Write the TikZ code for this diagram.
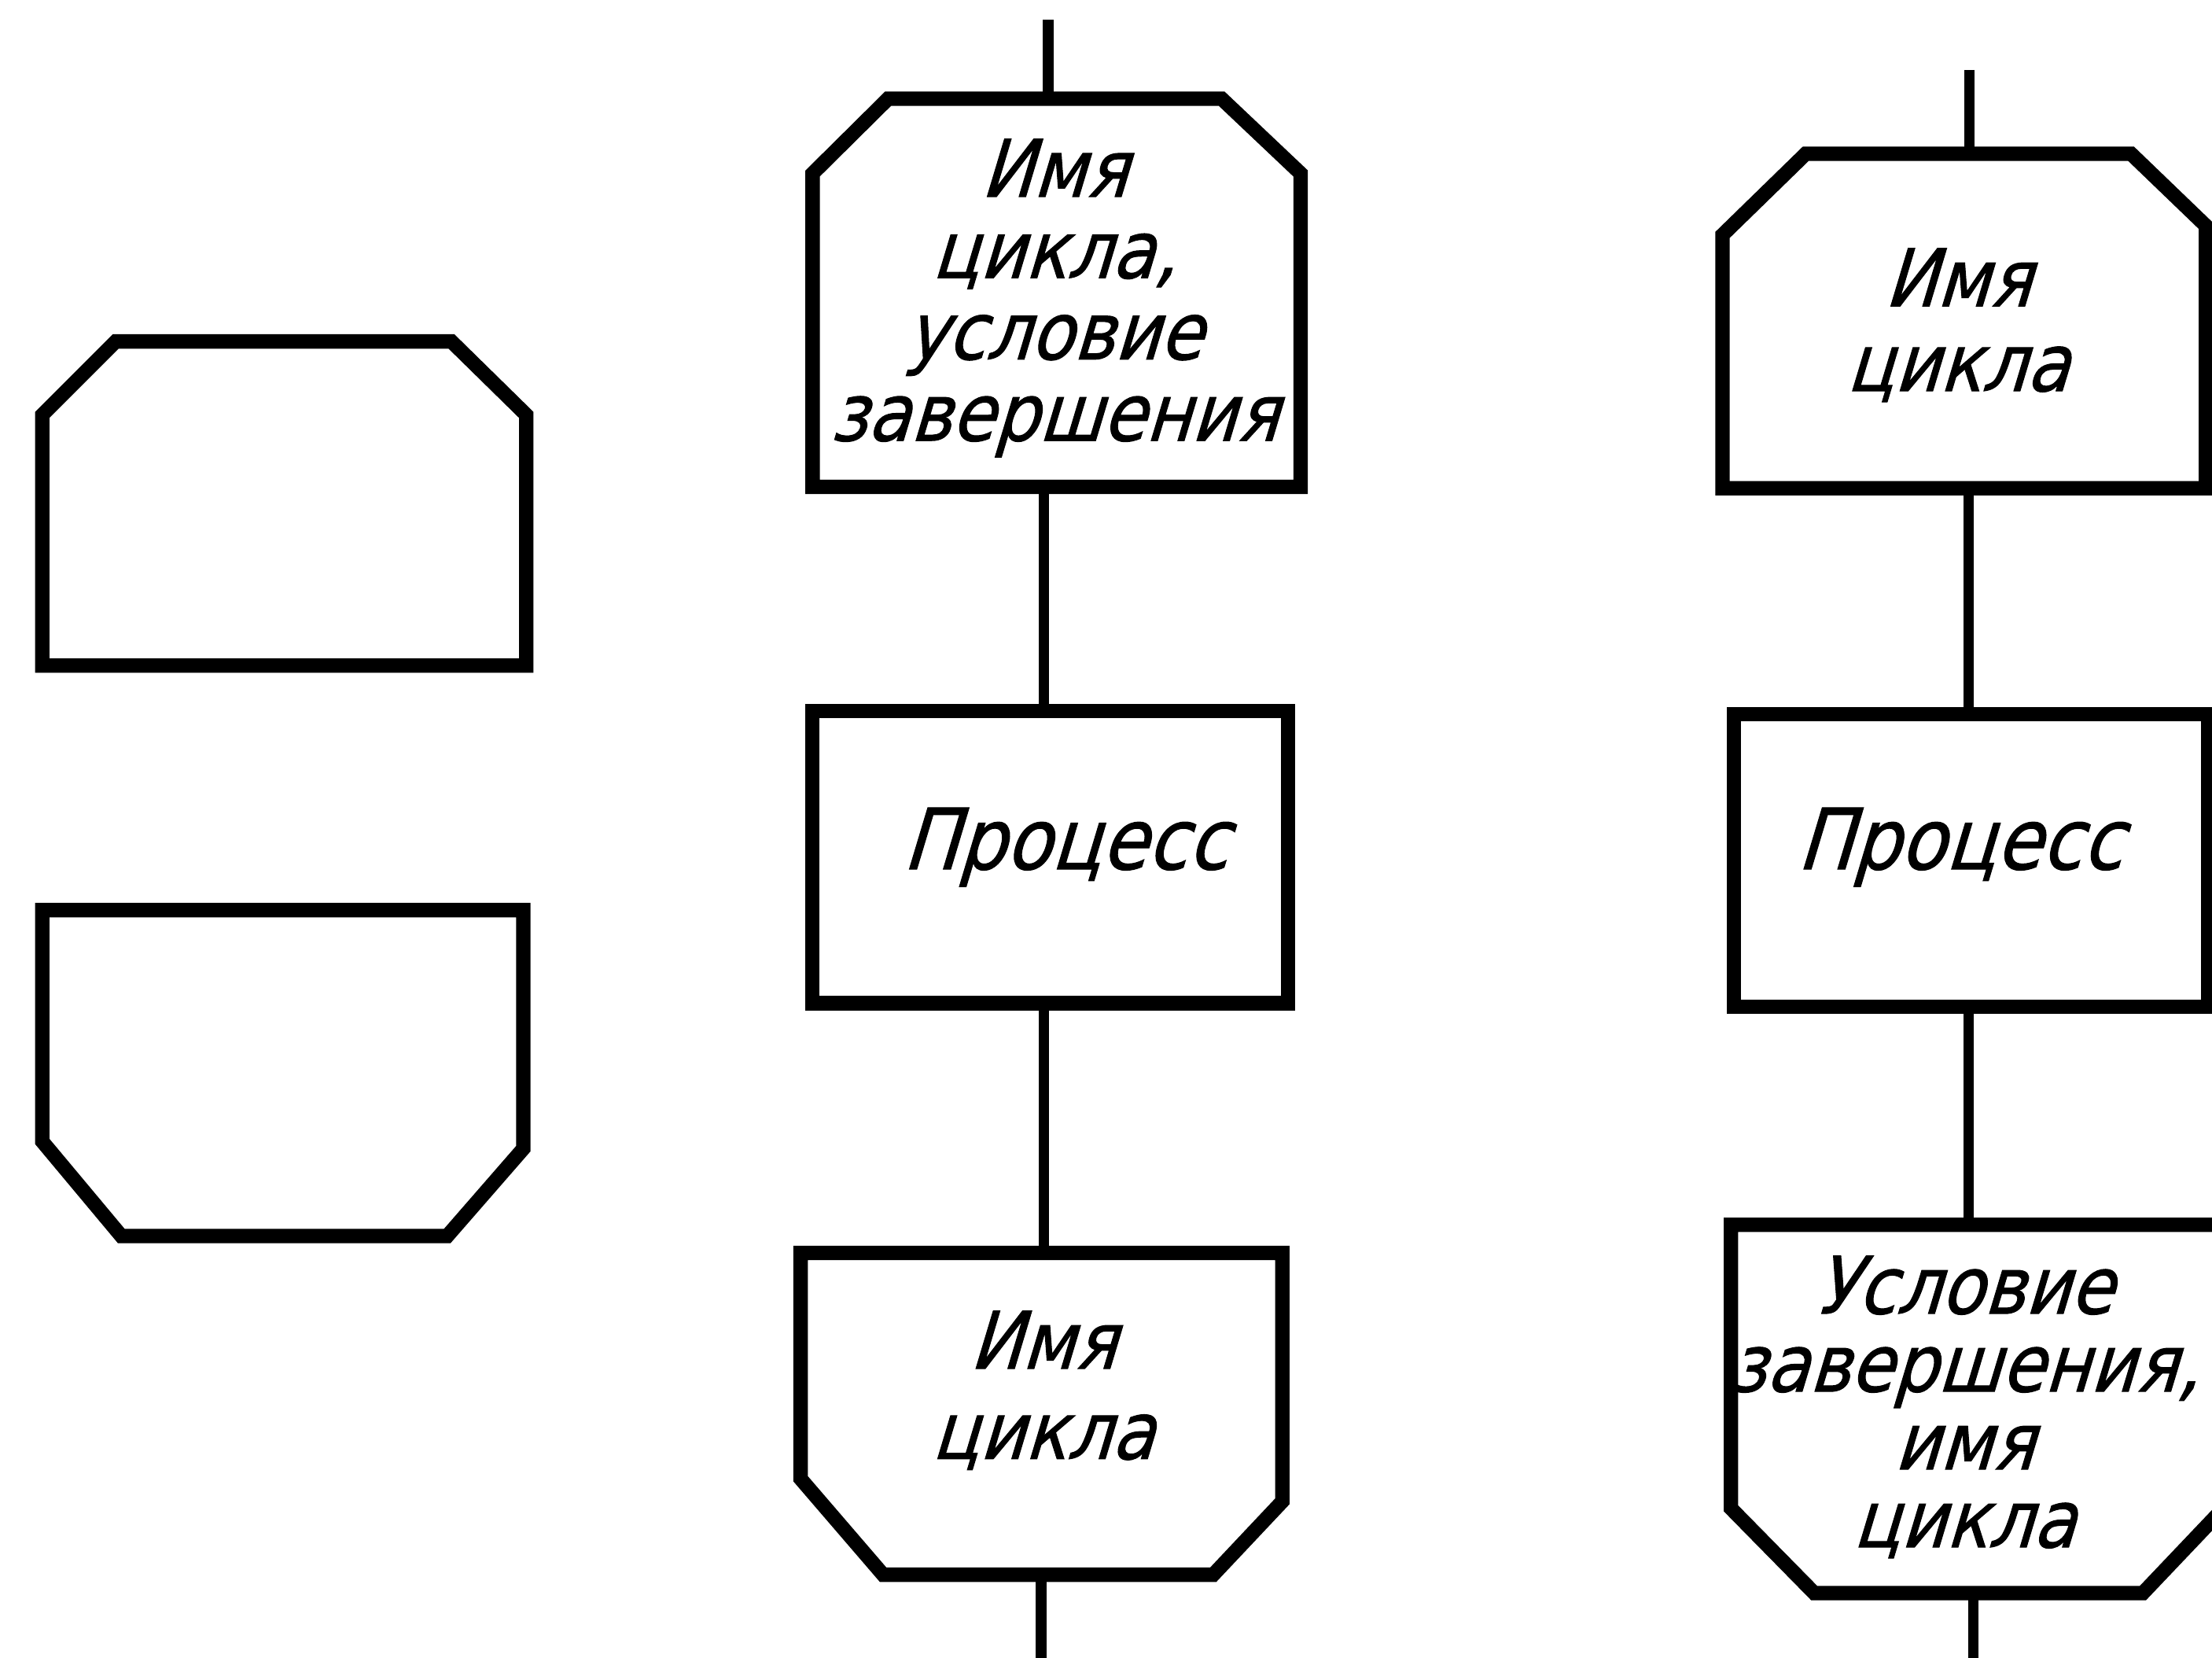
\documentclass[tikz,border=0pt]{standalone}
\usepackage{fontspec}
\newfontfamily\gost{DejaVu Sans}[FakeSlant=0.3, FakeStretch=0.88, FakeBold=1]
\usetikzlibrary{calc}
\tikzset{
  frame/.style={rectangle, inner sep=0pt, outer sep=0pt},
  outline/.style={draw=black, line width=2.9pt, line join=miter},
  conn/.style={draw=black, line width=2.1pt},
  lbl/.style={anchor=base, inner sep=0pt, text width=3.35cm, align=center, text=black},
}
% top-chamfered outline: name, left dx, left dy, right dx, right dy
\newcommand\chamtop[5]{\draw[outline] (#1.south west) -- ($(#1.north west)+(0,-#3)$) -- ($(#1.north west)+(#2,0)$) -- ($(#1.north east)+(-#4,0)$) -- ($(#1.north east)+(0,-#5)$) -- (#1.south east) -- cycle;}
% bottom-chamfered outline
\newcommand\chambot[5]{\draw[outline] (#1.north west) -- ($(#1.south west)+(0,#3)$) -- ($(#1.south west)+(#2,0)$) -- ($(#1.south east)+(-#4,0)$) -- ($(#1.south east)+(0,#5)$) -- (#1.north east) -- cycle;}
\begin{document}
\begin{tikzpicture}
\useasboundingbox (0,0) rectangle (15.68,11.75);
\fill[white] (0,0) rectangle (15.68,11.75);
\clip (0,0) rectangle (15.68,11.75);

% left column (symbols only)
\node[frame, minimum width=3.43cm, minimum height=2.297cm] (L1) at (2.015,8.1815) {};
\node[frame, minimum width=3.41cm, minimum height=2.31cm] (L2) at (2.005,4.145) {};
\chamtop{L1}{0.52}{0.52}{0.53}{0.52}
\chambot{L2}{0.56}{0.67}{0.54}{0.62}

% middle column
\node[frame, minimum width=3.46cm, minimum height=2.75cm] (M1) at (7.49,9.675) {};
\node[frame, minimum width=3.374cm, minimum height=2.07cm] (M2) at (7.443,5.675) {};
\node[frame, minimum width=3.415cm, minimum height=2.28cm] (M3) at (7.3825,1.73) {};
\chamtop{M1}{0.535}{0.53}{0.56}{0.53}
\draw[outline] (M2.south west) rectangle (M2.north east);
\chambot{M3}{0.585}{0.68}{0.49}{0.52}

\node[lbl, font=\gost\fontsize{16}{16.4}\selectfont] (M1t) at (7.47,10.356) {Имя\\цикла,\\условие\\завершения};
\node[lbl, font=\gost\fontsize{17}{18}\selectfont] (M2t) at (7.55,5.59) {Процесс};
\node[lbl, font=\gost\fontsize{16}{18.2}\selectfont] (M3t) at (7.39,2.05) {Имя\\цикла};

\coordinate (Mtop) at (7.43,11.61);
\coordinate (Max) at (7.40,0);
\coordinate (Mbot) at (7.38,0);
\draw[conn] (Mtop) -- (Mtop |- M1.north);
\draw[conn] (M1.south -| Max) -- (M2.north -| Max);
\draw[conn] (M2.south -| Max) -- (M3.north -| Max);
\draw[conn] (M3.south -| Mbot) -- (Mbot);

% right column
\node[frame, minimum width=3.426cm, minimum height=2.37cm] (R1) at (13.923,9.475) {};
\node[frame, minimum width=3.36cm, minimum height=2.074cm] (R2) at (13.97,5.653) {};
\node[frame, minimum width=3.50cm, minimum height=2.61cm] (R3) at (14.02,1.765) {};
\chamtop{R1}{0.59}{0.575}{0.53}{0.51}
\draw[outline] (R2.south west) rectangle (R2.north east);
\chambot{R3}{0.59}{0.60}{0.58}{0.61}

\node[lbl, font=\gost\fontsize{16}{17.1}\selectfont] (R1t) at (13.875,9.58) {Имя\\цикла};
\node[lbl, font=\gost\fontsize{17}{18}\selectfont] (R2t) at (13.89,5.59) {Процесс};
\node[lbl, font=\gost\fontsize{16}{15.7}\selectfont] (R3t) at (13.92,2.44) {Условие\\завершения,\\имя\\цикла};

\coordinate (Rtop) at (13.96,11.255);
\coordinate (Rax) at (13.955,0);
\coordinate (Rbot) at (13.986,0);
\draw[conn] (Rtop) -- (Rtop |- R1.north);
\draw[conn] (R1.south -| Rax) -- (R2.north -| Rax);
\draw[conn] (R2.south -| Rax) -- (R3.north -| Rax);
\draw[conn] (R3.south -| Rbot) -- (Rbot);
\end{tikzpicture}
\end{document}
